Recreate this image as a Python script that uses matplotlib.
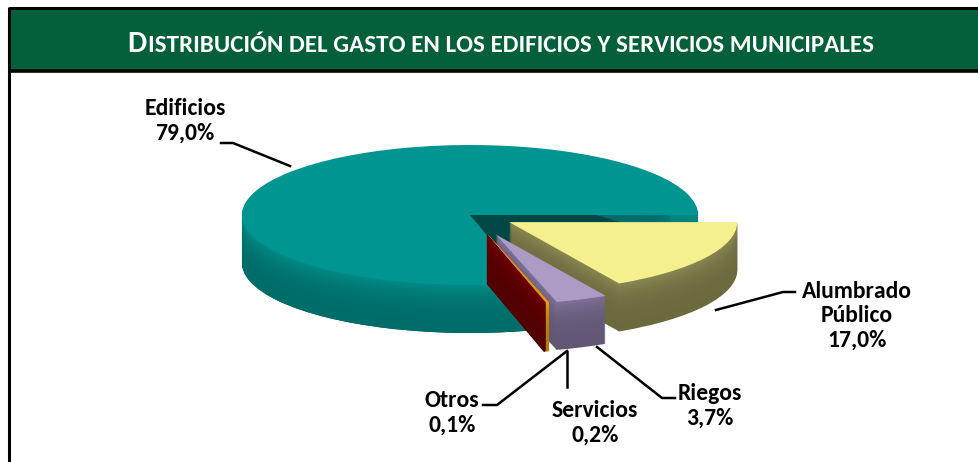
import matplotlib
matplotlib.use("Agg")
from matplotlib import pyplot as plt
from matplotlib.patches import Rectangle
import numpy as np

W, H = 979, 462

# data
categories = ["Edificios", "Otros", "Servicios", "Riegos", "Alumbrado\nPúblico"]
values = [79.0, 0.1, 0.2, 3.7, 17.0]
pct_labels = ["79,0%", "0,1%", "0,2%", "3,7%", "17,0%"]
explode = [0.0, 0.3, 0.3, 0.3, 0.2]

top_colors = ["#009591", "#6e0000", "#e89a00", "#aa9cc4", "#f5f08e"]
side_colors = ["#007c78", "#5e0000", "#d08a00", "#6f6486", "#7a7848"]
notch_color = "#004846"

title = "DISTRIBUCIÓN DEL GASTO EN LOS EDIFICIOS Y SERVICIOS MUNICIPALES"

plt.rcParams["font.family"] = ["Carlito", "Lato", "DejaVu Sans"]

fig = plt.figure(figsize=(W / 100, H / 100), dpi=100)

# pie axes: x in pixels, y stretched so a circle becomes a flat ellipse
rx, ry = 228.0, 70.0
s = rx / ry
cx, cy = 470.0, 215.0
depth = 48
expl = [e * rx for e in explode]  # pie explode is in data units

ax = fig.add_axes([0, 0, 1, 1])


def shade(c, f):
    rgb = np.array(matplotlib.colors.to_rgb(c)) * f
    return tuple(np.clip(rgb, 0, 1))


def layer(cols, yoff, keep, ring=False, edge=0):
    wp = dict(linewidth=0)
    if ring:
        wp["width"] = 0.12 * rx
    wedges, _ = ax.pie(values, explode=expl, colors=cols, startangle=0,
                       counterclock=True, radius=rx,
                       center=(cx, -(cy + yoff) * s), wedgeprops=wp)
    for i, w in enumerate(wedges):
        w.set_visible(i == keep)
        if edge:
            # thin slivers need an outline or they come out see-through
            w.set_edgecolor(w.get_facecolor())
            w.set_linewidth(edge)


def fac(k):
    return 0.88 + 0.25 * (1 - k / depth) ** 3


# Edificios is at the back: dark cut face first, then the outer rim, then top
for k in range(depth, 0, -1):
    layer([notch_color] * len(values), k, 0)
for k in range(depth, 0, -1):
    layer([shade(c, fac(k)) for c in side_colors], k, 0, ring=True)
layer(top_colors, 0, 0)

# the exploded slices, back to front
for i in [4, 3, 2, 1]:
    lw = 0.9 if values[i] < 1 else 0
    for k in range(depth, 0, -1):
        layer([shade(c, fac(k)) for c in side_colors], k, i, edge=lw)
    layer(top_colors, 0, i, edge=lw)

ax.set_aspect("auto")
ax.set_xlim(0, W)
ax.set_ylim(-H * s, 0)
ax.axis("off")

# overlay in pixel coordinates for frame, title and labels
ov = fig.add_axes([0, 0, 1, 1], zorder=5)
ov.set_xlim(0, W)
ov.set_ylim(H, 0)
ov.axis("off")
ov.patch.set_alpha(0)

ov.add_patch(Rectangle((9, 8), W, 62, facecolor="#03603a", edgecolor="none"))
ov.plot([9, W], [8, 8], color="black", lw=2.2, solid_capstyle="butt")
ov.plot([9, W], [71, 71], color="black", lw=2.6, solid_capstyle="butt")
ov.plot([9, 9], [7, H], color="black", lw=2.2, solid_capstyle="butt")

t1 = ov.text(0, 52, title[0], color="white", fontsize=22, fontweight="bold",
             ha="left", va="baseline")
t2 = ov.text(0, 52, title[1:], color="white", fontsize=18, fontweight="bold",
             ha="left", va="baseline")
fig.canvas.draw()
r = fig.canvas.get_renderer()
w1 = t1.get_window_extent(r).width
w2 = t2.get_window_extent(r).width
x0 = 500 - (w1 + w2) / 2
t1.set_x(x0)
t2.set_x(x0 + w1 + 1)

lab_kw = dict(fontsize=17, fontweight="bold", ha="center", va="center",
              color="black", linespacing=1.2)

# label positions (pixels)
lab_pos = {
    "Edificios": (185, 121),
    "Otros": (452, 413),
    "Servicios": (595, 423),
    "Riegos": (710, 406),
    "Alumbrado\nPúblico": (857, 316),
}
for name, pct in zip(categories, pct_labels):
    x, y = lab_pos[name]
    ov.text(x, y, name + "\n" + pct, **lab_kw)

leaders = [
    ([221, 233, 290], [143, 143, 166]),
    ([483, 497, 567], [405, 405, 351]),
    ([567, 567], [352, 387]),
    ([675, 662, 597], [398, 398, 347]),
    ([795, 783, 716], [292, 292, 310]),
]
for xs, ys in leaders:
    ov.plot(xs, ys, color="black", lw=1.8)

fig.savefig("out.png", dpi=100)
